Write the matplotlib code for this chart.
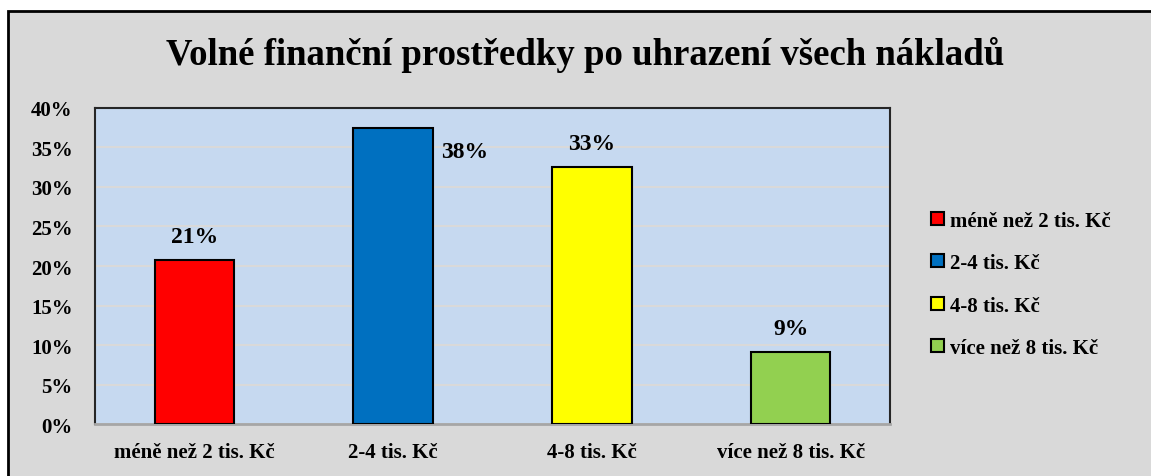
import matplotlib.pyplot as plt
from matplotlib.patches import Rectangle
from matplotlib.ticker import PercentFormatter

plt.rcParams['font.family'] = ['Liberation Serif', 'DejaVu Serif']
plt.rcParams['font.weight'] = 'bold'

# data
categories = ['méně než 2 tis. Kč', '2-4 tis. Kč', '4-8 tis. Kč', 'více než 8 tis. Kč']
values = [0.208, 0.375, 0.325, 0.091]
labels = ['21%', '38%', '33%', '9%']
colors = ['#ff0000', '#0070c0', '#ffff00', '#92d050']
yticks = [0, 0.05, 0.10, 0.15, 0.20, 0.25, 0.30, 0.35, 0.40]

fig = plt.figure(figsize=(11.51, 4.77), dpi=100, facecolor='white')

# outer chart frame (runs off the right and bottom edges)
frame = Rectangle((0.007, -0.1), 1.2, 1.075, transform=fig.transFigure,
                  facecolor='#d9d9d9', edgecolor='black', linewidth=2,
                  zorder=-10, clip_on=False)
fig.patches.append(frame)

ax = fig.add_axes([0.0825, 0.109, 0.6907, 0.6625])
ax.set_facecolor('#c6d9f0')

x = range(len(categories))
bars = ax.bar(x, values, width=0.4, color=colors, edgecolor='black',
              linewidth=1.5, zorder=3, label=categories)

for i, (v, lab) in enumerate(zip(values, labels)):
    if i == 1:
        # this label sits to the right of the bar top
        ax.annotate(lab, xy=(i + 0.2, v), xytext=(23, -17),
                    textcoords='offset points', ha='center', va='center',
                    fontsize=17, fontweight='bold')
    else:
        ax.annotate(lab, xy=(i, v), xytext=(0, 17),
                    textcoords='offset points', ha='center', va='center',
                    fontsize=17, fontweight='bold')

ax.set_xlim(-0.5, 3.5)
ax.set_ylim(0, 0.40)
ax.set_yticks(yticks)
ax.yaxis.set_major_formatter(PercentFormatter(1.0, decimals=0))
ax.set_xticks(list(x))
ax.set_xticklabels(categories)
ax.tick_params(axis='both', length=0, labelsize=15)
ax.tick_params(axis='y', pad=16)
ax.tick_params(axis='x', pad=13)
ax.grid(axis='y', color='#d9d9d9', linewidth=1.5, zorder=0)
ax.set_axisbelow(True)

for side in ['left', 'top', 'right']:
    ax.spines[side].set_color('#262626')
    ax.spines[side].set_linewidth(1.5)
ax.spines['bottom'].set_color('#a6a6a6')
ax.spines['bottom'].set_linewidth(2)

fig.text(0.508, 0.885, 'Volné finanční prostředky po uhrazení všech nákladů',
         ha='center', va='center', fontsize=26.5, fontweight='bold')

leg = fig.legend(handles=bars.patches, labels=categories,
                 loc='upper left', bbox_to_anchor=(0.8, 0.578),
                 frameon=False, fontsize=15, handlelength=0.6,
                 handleheight=0.6, handletextpad=0.3, labelspacing=1.08,
                 borderpad=0)

fig.savefig('out.png', dpi=100, facecolor=fig.get_facecolor())
